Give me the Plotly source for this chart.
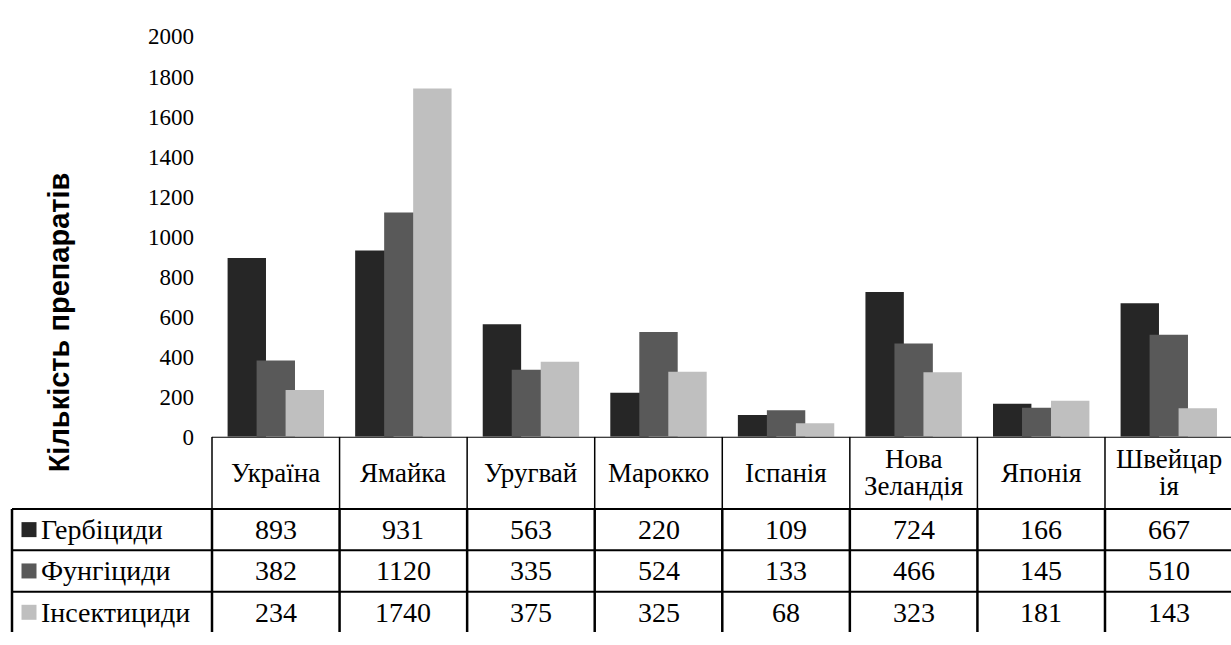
import plotly.graph_objects as go

# --- data ---------------------------------------------------------------
categories = ["Україна", "Ямайка", "Уругвай", "Марокко", "Іспанія",
              "Нова<br>Зеландія", "Японія", "Швейцар<br>ія"]
series_names = ["Гербіциди", "Фунгіциди", "Інсектициди"]
herbicides = [893, 931, 563, 220, 109, 724, 166, 667]
fungicides = [382, 1120, 335, 524, 133, 466, 145, 510]
insecticides = [234, 1740, 375, 325, 68, 323, 181, 143]
y_ticks = [0, 200, 400, 600, 800, 1000, 1200, 1400, 1600, 1800, 2000]
y_title = "Кількість препаратів"

series_values = [herbicides, fungicides, insecticides]
series_colors = ["#262626", "#595959", "#bfbfbf"]

# --- geometry (pixels of the 1231x645 canvas) ---------------------------
W, H = 1231, 645
COL_PX = 127.57             # one category column
PLOT_LEFT = 212             # left edge of the first category column
LEGEND_LEFT = 12            # left edge of the legend column of the table
ZERO_Y = 442                # y pixel of value 0 (top of the table)
TOP_Y = 25.4                # y pixel of value 2000
ROW_PX = 43.0               # data row height
HEADER_PX = 75.0            # header row height
TITLE_TOP, TITLE_BOTTOM = 173, 473   # vertical span of the axis title

x_lo = -0.5 - PLOT_LEFT / COL_PX
x_hi = x_lo + W / COL_PX
legend_left = -0.5 - (PLOT_LEFT - LEGEND_LEFT) / COL_PX

bar_w = 38.4 / COL_PX
bar_step = 29.0 / COL_PX
offsets = [(i - 1) * bar_step - bar_w / 2 for i in range(3)]

x = list(range(len(categories)))
serif = "Liberation Serif"
black = "#000000"

fig = go.Figure()
for name, vals, col, off in zip(series_names, series_values, series_colors, offsets):
    fig.add_trace(go.Bar(
        x=x, y=vals, name=name, width=bar_w, offset=off,
        marker=dict(color=col, line=dict(width=0)),
        showlegend=False, hoverinfo="skip",
    ))

# --- data table under the bars (x / y2 axes, y2 counts rows downward) ----
hdr = HEADER_PX / ROW_PX
row_tops = [hdr + i for i in range(3)]
table_bottom = hdr + 3
n = len(categories)
right = n - 0.5 + 0.2


def grid_trace(xs, ys, width):
    return go.Scatter(x=xs, y=ys, xaxis="x", yaxis="y2", mode="lines",
                      line=dict(color=black, width=width), cliponaxis=False,
                      showlegend=False, hoverinfo="skip")


# horizontal rules
hx, hy = [-0.5, right, None], [0, 0, None]
for yv in [hdr] + row_tops[1:] + [table_bottom]:
    hx += [legend_left, right, None]
    hy += [yv, yv, None]
fig.add_trace(grid_trace(hx, hy, 2))

# vertical rules: thin in the header, heavier in the body
vx_h, vy_h, vx_b, vy_b = [], [], [legend_left, legend_left, None], [hdr, table_bottom, None]
for i in range(n + 1):
    xv = i - 0.5
    vx_h += [xv, xv, None]
    vy_h += [0, hdr, None]
    vx_b += [xv, xv, None]
    vy_b += [hdr, table_bottom, None]
fig.add_trace(grid_trace(vx_h, vy_h, 1.5))
fig.add_trace(grid_trace(vx_b, vy_b, 2.5))

# legend keys
fig.add_trace(go.Scatter(
    x=[legend_left + 17 / COL_PX] * 3, y=[rt + 0.5 for rt in row_tops],
    xaxis="x", yaxis="y2", mode="markers", cliponaxis=False,
    marker=dict(symbol="square", size=15, color=series_colors, line=dict(width=0)),
    showlegend=False, hoverinfo="skip"))

# empty trace that carries the axis used for the vertical title
fig.add_trace(go.Scatter(x=[None], y=[None], xaxis="x", yaxis="y3",
                         showlegend=False, hoverinfo="skip"))

annotations = []

# header: category names, one annotation per line
line_gap = 28.0 / ROW_PX
for i, cat in enumerate(categories):
    lines = cat.split("<br>")
    k = len(lines)
    for j, txt in enumerate(lines):
        yc = hdr / 2 + (j - (k - 1) / 2) * line_gap
        annotations.append(dict(
            x=i, y=yc, xref="x", yref="y2", text=txt, showarrow=False,
            xanchor="center", yanchor="middle",
            font=dict(family=serif, size=27, color=black)))

# body: series names and values
for r, (name, vals) in enumerate(zip(series_names, series_values)):
    yc = row_tops[r] + 0.5
    annotations.append(dict(
        x=legend_left + 27 / COL_PX, y=yc, xref="x", yref="y2", text=name,
        showarrow=False, xanchor="left", yanchor="middle",
        font=dict(family=serif, size=28, color=black)))
    for i, v in enumerate(vals):
        annotations.append(dict(
            x=i, y=yc, xref="x", yref="y2", text=str(v), showarrow=False,
            xanchor="center", yanchor="middle",
            font=dict(family=serif, size=28, color=black)))

fig.update_layout(
    width=W, height=H,
    margin=dict(l=0, r=0, t=0, b=0),
    paper_bgcolor="white", plot_bgcolor="rgba(0,0,0,0)",
    barmode="overlay",
    xaxis=dict(range=[x_lo, x_hi], domain=[0, 1], visible=False, fixedrange=True),
    yaxis=dict(
        range=[0, 2000], domain=[1 - ZERO_Y / H, 1 - TOP_Y / H],
        anchor="free", position=PLOT_LEFT / W,
        tickmode="array", tickvals=y_ticks, ticktext=[str(t) for t in y_ticks],
        showgrid=False, zeroline=False, showline=False, ticks="",
        ticklabelstandoff=18, fixedrange=True,
        tickfont=dict(family=serif, size=23, color=black),
    ),
    yaxis2=dict(
        range=[(H - ZERO_Y) / ROW_PX, 0], domain=[0, 1 - ZERO_Y / H],
        anchor="x", visible=False, fixedrange=True,
    ),
    yaxis3=dict(
        range=[0, 1], domain=[1 - TITLE_BOTTOM / H, 1 - TITLE_TOP / H],
        anchor="free", position=80 / W, fixedrange=True,
        showticklabels=False, showgrid=False, zeroline=False, showline=False, ticks="",
        title=dict(text=f"<b>{y_title}</b>", standoff=0,
                   font=dict(family="Liberation Sans", size=29, color=black)),
    ),
    annotations=annotations,
)

fig.write_html("out.html")
